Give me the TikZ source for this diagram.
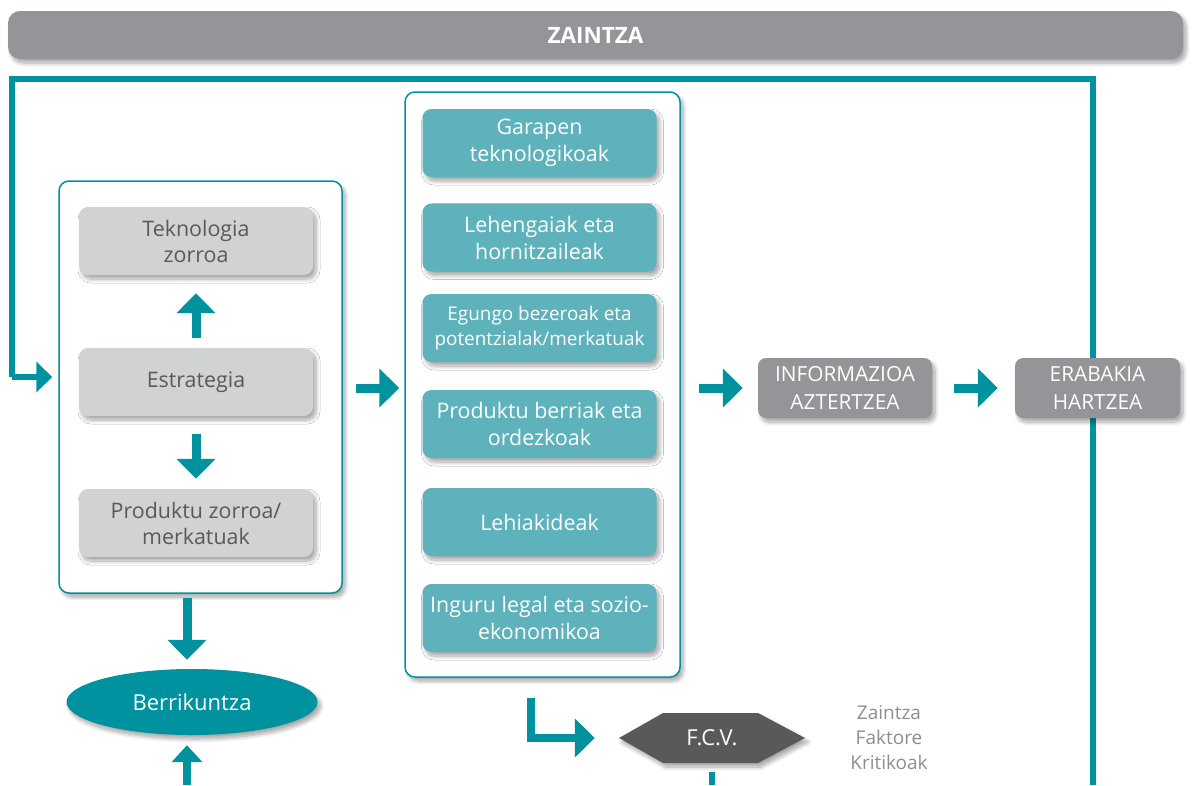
\documentclass[tikz,border=0pt]{standalone}
\usepackage{fontspec}
\setmainfont{Open Sans}
\usetikzlibrary{arrows.meta,shadows.blur,shapes.geometric}

\definecolor{zteal}{RGB}{0,146,159}
\definecolor{zlteal}{RGB}{94,178,188}
\definecolor{zgray}{RGB}{147,149,152}
\definecolor{zlgray}{RGB}{209,210,212}
\definecolor{ztext}{RGB}{88,89,91}
\definecolor{zdark}{RGB}{88,89,91}
\definecolor{znote}{RGB}{140,142,145}

\tikzset{
  softshadow/.style={blur shadow={shadow xshift=3pt, shadow yshift=-4pt,
      shadow blur radius=4pt, shadow blur steps=8, shadow opacity=35}},
  container/.style={draw=zteal, line width=1.5pt, fill=white, rounded corners=10pt, softshadow},
  graybox/.style={fill=zlgray, text=ztext, rounded corners=9pt, minimum width=234pt,
      minimum height=68pt, align=center, inner sep=0pt, softshadow,
      font=\fontsize{21.4}{26}\selectfont},
  tealbox/.style={fill=zlteal, text=white, rounded corners=9pt, minimum width=234pt,
      minimum height=68pt, align=center, inner sep=0pt, softshadow,
      font=\fontsize{21.4}{27}\selectfont},
  stagebox/.style={fill=zgray, text=white, rounded corners=8pt,
      minimum height=60pt, align=center, inner sep=0pt, softshadow,
      font=\fontsize{20.8}{28}\selectfont},
  blockarrow/.style={draw=zteal, line width=9pt, -{Triangle[length=20pt,width=38pt]}},
  smallarrow/.style={draw=zteal, line width=7pt, -{Triangle[length=17pt,width=30pt]}},
  feedback/.style={draw=zteal, line width=6.5pt, miter limit=10},
}

\begin{document}
\begin{tikzpicture}[x=1pt,y=-1pt]
\useasboundingbox (0,0) rectangle (1193,785);

% feedback loop from the right edge back into the strategy block
\coordinate (fbstart) at (1093,785);
\coordinate (fbtop) at (1093,79);
\coordinate (fbleft) at (12,79);
\coordinate (fbin) at (12,377);

% header bar
\node[fill=zgray, rounded corners=12pt, minimum width=1175pt, minimum height=48pt,
      inner sep=0pt, softshadow, text=white, font=\fontsize{22.5}{24}\selectfont\bfseries]
      (head) at (595.5,35) {ZAINTZA};

% strategy block
\node[container, minimum width=283pt, minimum height=412pt, inner sep=0pt] (lbox) at (200.5,387) {};
\node[graybox] (tek) at (196,241) {Teknologia\\zorroa};
\node[graybox] (est) at (196,382) {Estrategia};
\node[graybox] (prod) at (196,523) {Produktu zorroa/\\merkatuak};

% monitored areas
\node[container, minimum width=275pt, minimum height=585pt, inner sep=0pt] (mbox) at (542.5,384.5) {};
\node[tealbox] (m1) at (539.5,143) {Garapen\\teknologikoak};
\node[tealbox] (m2) at (539.5,237.5) {Lehengaiak eta\\hornitzaileak};
\node[tealbox, font=\fontsize{18.9}{25}\selectfont] (m3) at (539.5,328) {Egungo bezeroak eta\\potentzialak/merkatuak};
\node[tealbox] (m4) at (539.5,424) {Produktu berriak eta\\ordezkoak};
\node[tealbox] (m5) at (539.5,522) {Lehiakideak};
\node[tealbox] (m6) at (539.5,618) {Inguru legal eta sozio-\\ekonomikoa};

% feedback line (behind the decision box)
\draw[feedback] (fbstart) -- (fbtop) -- (fbleft) -- (fbin);
\draw[smallarrow, line width=6.5pt, -{Triangle[length=16pt,width=30pt]}, shorten >=6pt]
  (fbin) -- (lbox.west |- fbin);

% analysis and decision
\node[stagebox, minimum width=174pt] (info) at (845,388) {INFORMAZIOA\\AZTERTZEA};
\node[stagebox, minimum width=165pt] (erab) at (1097.5,388) {ERABAKIA\\HARTZEA};

% innovation
\node[ellipse, fill=zteal, text=white, minimum width=251pt, minimum height=66pt,
      inner sep=0pt, softshadow, font=\fontsize{22}{24}\selectfont]
      (berr) at (192,702) {Berrikuntza};

% critical factors hexagon
\fill[zdark, softshadow] (619,738) -- (663,713) -- (758,713) -- (805,738)
  -- (758,763) -- (663,763) -- cycle;
\node[minimum width=186pt, minimum height=50pt, inner sep=0pt, text=white,
      font=\fontsize{22}{24}\selectfont] (fcv) at (712,738) {F.C.V.};
\node[text=znote, align=center, font=\fontsize{19}{25}\selectfont] (note) at (889,738)
  {Zaintza\\Faktore\\Kritikoak};

% arrows
\coordinate (bx) at (187,0);
\coordinate (lx) at (531,0);
\coordinate (bottomedge) at (187,785);
\coordinate (fcvout) at (712,785);

\draw[blockarrow, shorten <=10pt, shorten >=18pt] (est.north) -- (tek.south);
\draw[blockarrow, shorten <=18pt, shorten >=10pt] (est.south) -- (prod.north);
\draw[blockarrow, shorten <=13pt, shorten >=5pt] (lbox.east |- info) -- (mbox.west |- info);
\draw[blockarrow, shorten <=18pt, shorten >=15pt] (mbox.east |- info) -- (info.west);
\draw[blockarrow, shorten <=22pt, shorten >=17pt] (info.east) -- (erab.west);
\draw[blockarrow, shorten <=4pt, shorten >=9pt] (lbox.south -| bx) -- (berr.north -| bx);
\draw[smallarrow, line width=8pt, shorten >=10pt] (bottomedge) -- (berr.south -| bx);
\draw[blockarrow, line width=8pt, shorten <=20pt, shorten >=24pt]
  (mbox.south -| lx) -- (lx |- fcv.west) -- (fcv.west);
\draw[feedback] (fcv.south) ++(0,9) -- (fcvout);
\end{tikzpicture}
\end{document}
